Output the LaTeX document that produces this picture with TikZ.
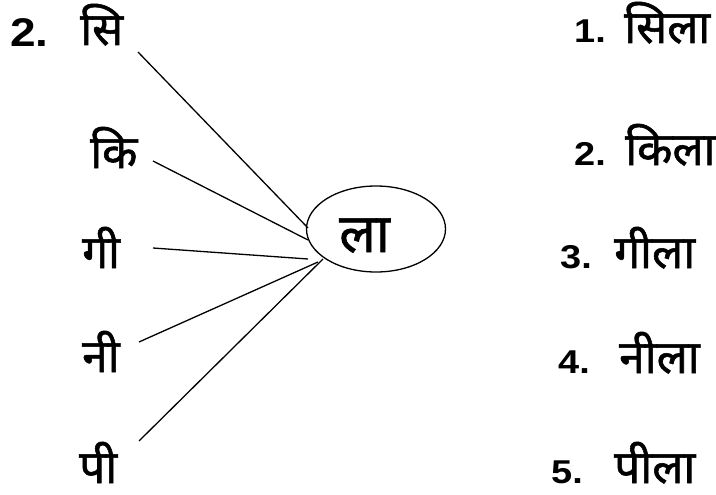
\documentclass[tikz,border=0pt]{standalone}
\usepackage{fontspec}
\setmainfont{Liberation Sans}
\newfontfamily\deva[Script=Devanagari,FakeBold=1.2]{Noto Sans}
\newfontfamily\numfont[FakeStretch=1.15]{Liberation Sans}
\usetikzlibrary{shapes.geometric}
\begin{document}
\begin{tikzpicture}[x=1pt,y=-1pt,
  numL/.style={font=\numfont\fontsize{40}{40}\selectfont\bfseries,inner sep=0pt,anchor=base west},
  numR/.style={font=\numfont\fontsize{33}{33}\selectfont\bfseries,inner sep=0pt,anchor=base west},
  hin/.style={font=\deva\fontsize{46}{46}\selectfont,inner sep=0pt,anchor=base west},
  big/.style={font=\deva\fontsize{54}{54}\selectfont,inner sep=0pt,anchor=base west},
  wire/.style={line width=1.3pt}]
\useasboundingbox (0,0) rectangle (716,495);
% left column
\node[numL] (n2) at (10,47) {2.};
\node[hin] (si) at (80,45) {सि};
\node[hin] (ki) at (90,168) {कि};
\node[hin] (gi) at (82,268) {गी};
\node[hin] (ni) at (82,372) {नी};
\node[hin] (pi) at (79,483) {पी};
% centre
\node[draw,ellipse,line width=1.3pt,minimum width=139pt,minimum height=86pt,inner sep=0pt] (la) at (376,229) {};
\node[big] (lat) at (339,252) {ला};
% line ends
\coordinate (a1) at (138,52);  \coordinate (b1) at (308,228);
\coordinate (a2) at (153,161); \coordinate (b2) at (308,240);
\coordinate (a3) at (153,248); \coordinate (b3) at (308,259);
\coordinate (a4) at (139,342); \coordinate (b4) at (318,262);
\coordinate (a5) at (139,441); \coordinate (b5) at (323,259);
\foreach \i in {1,...,5} \draw[wire] (a\i) -- (b\i);
% right column
\node[numR] (r1) at (574,43) {1.};
\node[hin] (w1) at (624,43) {सिला};
\node[numR] (r2) at (574,165) {2.};
\node[hin] (w2) at (625,165) {किला};
\node[numR] (r3) at (560,268) {3.};
\node[hin] (w3) at (614,268) {गीला};
\node[numR] (r4) at (558,373) {4.};
\node[hin] (w4) at (619,373) {नीला};
\node[numR] (r5) at (551,483) {5.};
\node[hin] (w5) at (614,483) {पीला};
\end{tikzpicture}
\end{document}
